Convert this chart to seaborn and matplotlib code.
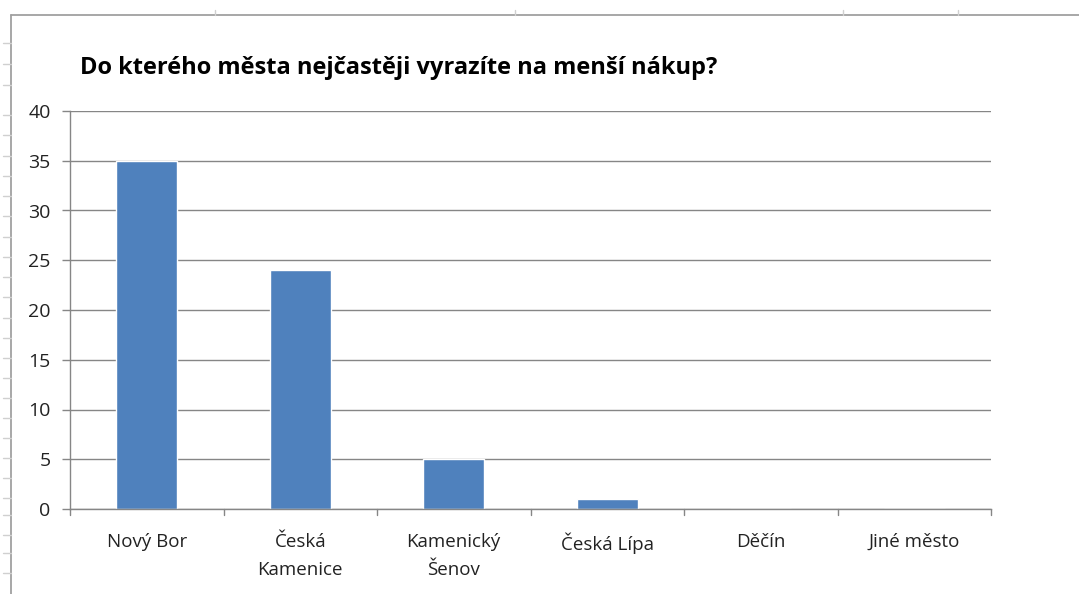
import matplotlib
matplotlib.use("Agg")
import matplotlib.pyplot as plt
import seaborn as sns
import pandas as pd
from matplotlib.lines import Line2D

categories = ["Nový Bor", "Česká\nKamenice", "Kamenický\nŠenov", "Česká Lípa", "Děčín", "Jiné město"]
values = [35, 24, 5, 1, 0, 0]
yticks = [0, 5, 10, 15, 20, 25, 30, 35, 40]
title = "Do kterého města nejčastěji vyrazíte na menší nákup?"

sns.set_theme(style="white")
plt.rcParams["font.family"] = ["Open Sans", "DejaVu Sans"]

W, H = 1079, 594
fig = plt.figure(figsize=(W / 100, H / 100), dpi=100)
fig.patch.set_facecolor("white")

# spreadsheet frame / chart border
border = "#a0a0a0"
fig.add_artist(Line2D([11 / W, 11 / W], [0, 1 - 15 / H], transform=fig.transFigure, color=border, lw=1.3))
fig.add_artist(Line2D([11 / W, 1], [1 - 15 / H, 1 - 15 / H], transform=fig.transFigure, color=border, lw=1.3))
for x in [215, 515, 843, 958]:
    fig.add_artist(Line2D([x / W, x / W], [1 - 10 / H, 1 - 15 / H], transform=fig.transFigure, color="#d0d0d0", lw=1))
for y in [43, 64, 85, 115, 135, 156, 176, 196, 216, 237, 257, 277, 297, 318, 338, 358, 378, 398, 418, 438, 458, 478, 498, 515, 535, 553, 573]:
    fig.add_artist(Line2D([3 / W, 11 / W], [1 - y / H, 1 - y / H], transform=fig.transFigure, color="#d0d0d0", lw=1))

ax = fig.add_axes([70 / W, 1 - 509 / H, (991 - 70) / W, (509 - 111) / H])
df = pd.DataFrame({"city": categories, "count": values})
sns.barplot(data=df, x="city", y="count", color="#4F81BD", width=0.4, ax=ax, saturation=1)

ax.set_ylim(0, 40)
ax.set_xlim(-0.5, len(categories) - 0.5)
ax.set_yticks(yticks)
ax.set_yticklabels([str(t) for t in yticks], fontsize=14, color="#222222")
ax.set_xticks(range(len(categories)))
ax.set_xticklabels(categories, fontsize=13.5, color="#222222", linespacing=1.75)
ax.tick_params(axis="x", length=0, pad=17)
ax.tick_params(axis="y", length=6, width=1, color="#868686", pad=8, left=True)
ax.set_xlabel("")
ax.set_ylabel("")
ax.grid(axis="y", color="#868686", lw=1)
ax.set_axisbelow(True)
for s in ["top", "right"]:
    ax.spines[s].set_visible(False)
ax.spines["left"].set_color("#868686")
ax.spines["bottom"].set_color("#868686")
ax.spines["left"].set_linewidth(1)
ax.spines["bottom"].set_linewidth(1)

# category boundary tick marks below the axis
for b in range(len(categories) + 1):
    ax.plot([b - 0.5, b - 0.5], [0, -0.6], color="#868686", lw=1, clip_on=False)

fig.text(80 / W, 1 - 68 / H, title, fontsize=17, fontweight="bold", color="black", va="center", ha="left")

fig.savefig("out.png", dpi=100)
